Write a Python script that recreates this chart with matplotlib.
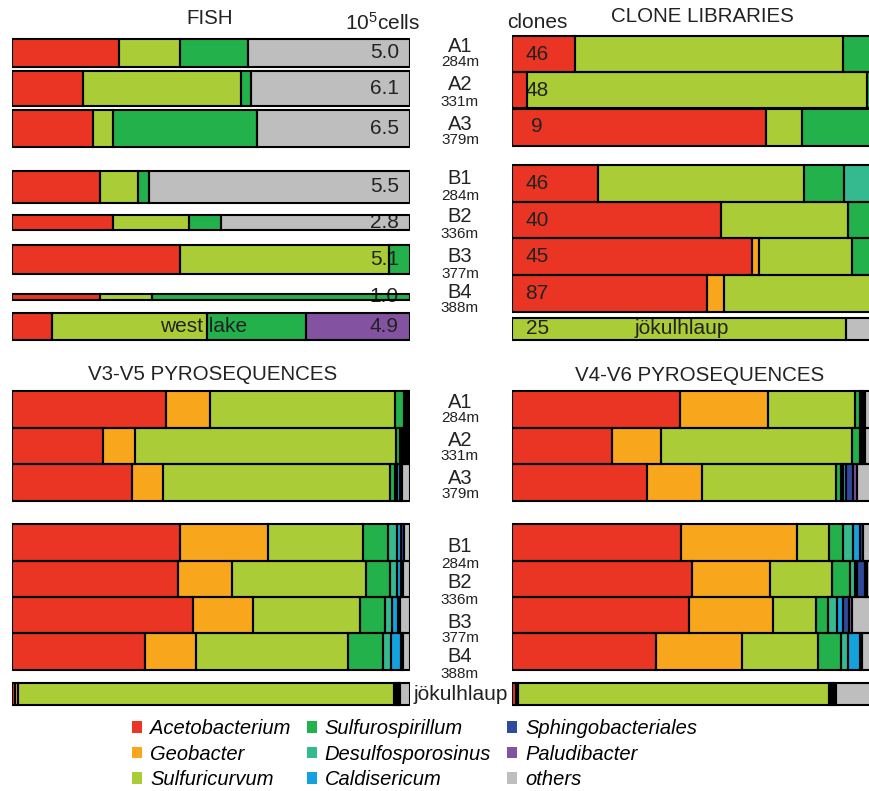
import matplotlib
matplotlib.use('Agg')
import matplotlib.pyplot as plt
from matplotlib.patches import Patch
import numpy as np

plt.rcParams['font.family'] = ['Liberation Sans', 'DejaVu Sans']
plt.rcParams['mathtext.fontset'] = 'custom'
plt.rcParams['mathtext.rm'] = 'Liberation Sans'

W, H = 869, 791
INK = '#222222'

# taxa (legend order) and their colours
taxa = ['Acetobacterium', 'Geobacter', 'Sulfuricurvum', 'Sulfurospirillum',
        'Desulfosporosinus', 'Caldisericum', 'Sphingobacteriales', 'Paludibacter', 'others']
colors = ['#EB3524', '#F8A71C', '#AACD37', '#22B14B', '#35B98F', '#14A2DE',
          '#2F4A9C', '#8353A2', '#BEBEBE']

samples = ['A1', 'A2', 'A3', 'B1', 'B2', 'B3', 'B4']
depths = ['284m', '331m', '379m', '284m', '336m', '377m', '388m']

# FISH: relative abundances + total cell counts (10^5 cells)
fish_cells = [5.0, 6.1, 6.5, 5.5, 2.8, 5.1, 1.0, 4.9]
fish = [
    [.270, 0, .152, .172, 0, 0, 0, 0, .406],
    [.179, 0, .396, .025, 0, 0, 0, 0, .400],
    [.203, 0, .052, .360, 0, 0, 0, 0, .385],
    [.221, 0, .095, .028, 0, 0, 0, 0, .656],
    [.255, 0, .189, .081, 0, 0, 0, 0, .475],
    [.421, 0, .526, .053, 0, 0, 0, 0, 0],
    [.221, 0, .130, .649, 0, 0, 0, 0, 0],
    [.101, 0, .390, .248, 0, 0, 0, .261, 0],   # west lake
]

# clone libraries: fractions + number of clones
clone_n = [46, 48, 9, 46, 40, 45, 87, 25]
clones = [
    [.158, 0, .674, .110, 0, 0, 0, 0, .058],
    [.038, 0, .854, .050, 0, 0, 0, 0, .058],
    [.638, 0, .091, .200, 0, 0, 0, 0, .071],
    [.216, 0, .518, .100, .080, 0, 0, 0, .086],
    [.525, 0, .319, .110, 0, 0, 0, 0, .046],
    [.603, .018, .233, .100, 0, 0, 0, 0, .046],
    [.490, .043, .397, .030, 0, 0, 0, 0, .040],
    [0, 0, .839, 0, 0, 0, 0, 0, .161],         # jokulhlaup
]

# V3-V5 pyrosequences
v35 = [
    [.387, .110, .465, .023, .004, .004, .004, 0, .003],
    [.228, .081, .655, .011, .005, .005, .005, .004, .006],
    [.301, .078, .571, .012, .005, .008, .005, 0, .020],
    [.422, .221, .239, .063, .023, .010, .007, 0, .015],
    [.417, .135, .337, .061, .017, .010, .005, 0, .018],
    [.454, .151, .269, .063, .019, .014, .005, 0, .025],
    [.334, .128, .382, .088, .020, .025, .005, 0, .018],
    [.007, .008, .945, .005, .004, .004, .003, 0, .024],
]

# V4-V6 pyrosequences
v46 = [
    [.422, .221, .219, .012, .004, .004, .005, 0, .113],
    [.251, .123, .480, .020, .004, .004, .005, 0, .113],
    [.339, .138, .337, .013, .005, .008, .018, .010, .132],
    [.424, .292, .081, .035, .025, .017, .007, 0, .119],
    [.452, .196, .156, .045, .013, .006, .020, .004, .108],
    [.445, .211, .108, .030, .023, .015, .015, .008, .145],
    [.362, .216, .191, .058, .017, .030, .005, 0, .121],
    [.009, .006, .782, .005, .004, .004, .004, 0, .186],
]

# row layout (pixel rows)
fish_y = [53, 88.5, 128.5, 187, 222.5, 259.5, 297, 326.5]
fish_h = [c * 5.7 for c in fish_cells]
clone_y = [54, 90, 127, 183.5, 220, 256.5, 293.5, 329]
clone_h = [36, 36, 37, 37, 36, 37, 37, 22]
pyro_y = [409.5, 446, 482.5, 542.5, 579, 615, 651.5, 694]
pyro_h = [36.5] * 7 + [22]


def fx(x):
    return x / W


def fy(y):
    return 1 - y / H


def stacked(ax, rows, centers, heights):
    rows = np.array(rows)
    centers = np.array(centers)
    heights = np.array(heights)
    left = np.zeros(len(rows))
    for k in range(rows.shape[1]):
        w = rows[:, k]
        m = w > 0
        if m.any():
            # fill below the labels, outlines on top of them
            ax.barh(centers[m], w[m], height=heights[m], left=left[m],
                    color=colors[k], linewidth=0, zorder=1)
            ax.barh(centers[m], w[m], height=heights[m], left=left[m],
                    facecolor='none', edgecolor='black', linewidth=1.5, zorder=3)
        left += w


fig = plt.figure(figsize=(W / 100, H / 100), dpi=100)

axL = fig.add_axes([fx(12), 0, fx(398), 1])
axR = fig.add_axes([fx(512), 0, fx(398), 1])
for ax in (axL, axR):
    ax.set_xlim(0, 1)
    ax.set_ylim(H, 0)
    ax.axis('off')

stacked(axL, fish, fish_y, fish_h)
stacked(axR, clones, clone_y, clone_h)
stacked(axL, v35, pyro_y, pyro_h)
stacked(axR, v46, pyro_y, pyro_h)

# FISH cell counts
for y, c in zip(fish_y, fish_cells):
    axL.text(0.972, y, f'{c:.1f}', ha='right', va='center', fontsize=15, color=INK, zorder=2)
axL.text(0.482, fish_y[-1], 'west lake', ha='center', va='center', fontsize=15, color=INK, zorder=2)

# clone numbers
for y, n in zip(clone_y, clone_n):
    axR.text(0.063, y, str(n), ha='center', va='center', fontsize=15, color=INK, zorder=2)
axR.text(0.427, clone_y[-1], 'jökulhlaup', ha='center', va='center', fontsize=15, color=INK, zorder=2)

# sample labels between the panels
top_name_y = [46, 85, 124, 179, 217, 257, 292]
bot_name_y = [402, 440, 478, 547, 583, 622, 657]
for names_y in (top_name_y, bot_name_y):
    for s, d, y in zip(samples, depths, names_y):
        fig.text(fx(460), fy(y), s, ha='center', va='center', fontsize=14.5, color=INK)
        fig.text(fx(460), fy(y + 16.5), d, ha='center', va='center', fontsize=11, color=INK)
fig.text(fx(461), fy(694), 'jökulhlaup', ha='center', va='center', fontsize=15, color=INK)

# panel titles
fig.text(fx(210), fy(18), 'FISH', ha='center', va='center', fontsize=14.8, color=INK)
fig.text(fx(383), fy(23), r'$\mathregular{10^5}$cells', ha='center', va='center', fontsize=15, color=INK)
fig.text(fx(537), fy(23), 'clones', ha='center', va='center', fontsize=15, color=INK)
fig.text(fx(702), fy(17), 'CLONE LIBRARIES', ha='center', va='center', fontsize=14.8, color=INK)
fig.text(fx(213), fy(374), 'V3-V5 PYROSEQUENCES', ha='center', va='center', fontsize=14.8, color=INK)
fig.text(fx(700), fy(375), 'V4-V6 PYROSEQUENCES', ha='center', va='center', fontsize=14.8, color=INK)

handles = [Patch(facecolor=c, edgecolor='none', label=t) for t, c in zip(taxa, colors)]
fig.legend(handles=handles, ncol=3, loc='center left', bbox_to_anchor=(fx(132), fy(754)),
           frameon=False, prop={'style': 'italic', 'size': 14.5}, handlelength=0.5,
           handleheight=0.5, handletextpad=0.4, columnspacing=0.8, labelspacing=0.32,
           borderpad=0, borderaxespad=0)

fig.savefig('out.png', dpi=100)
